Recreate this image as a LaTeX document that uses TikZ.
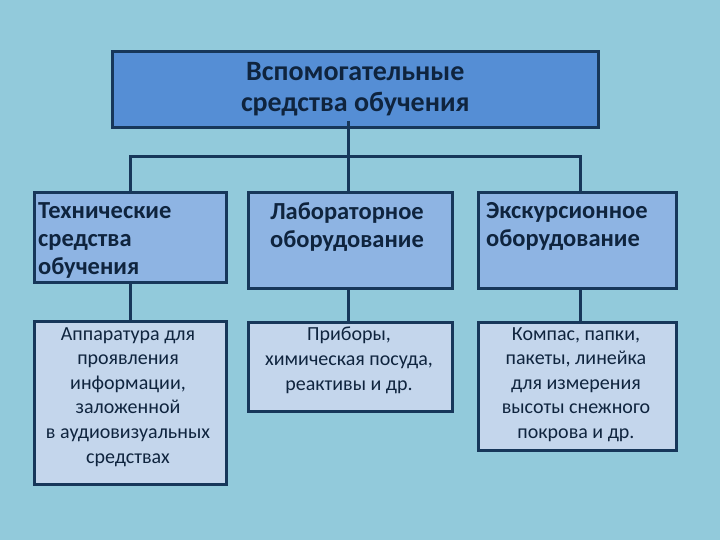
\documentclass[tikz,border=0pt]{standalone}
\usepackage{fontspec}
\setmainfont{Carlito}
\definecolor{bg}{RGB}{146,202,219}
\definecolor{frame}{RGB}{23,55,90}
\definecolor{ink}{RGB}{15,36,62}
\definecolor{topfill}{RGB}{85,142,213}
\definecolor{midfill}{RGB}{142,180,227}
\definecolor{lowfill}{RGB}{196,214,236}
\tikzset{
  box/.style={draw=frame, line width=2.6pt, inner sep=0pt, anchor=north west},
  conn/.style={draw=frame, line width=3pt},
  titletext/.style={text=ink, font=\fontsize{28}{31}\selectfont\bfseries, align=center, inner sep=0pt},
  midtext/.style={text=ink, font=\fontsize{24.5}{28}\selectfont\bfseries, inner sep=0pt, anchor=north},
  lowtext/.style={text=ink, font=\fontsize{20}{24.6}\selectfont, align=center, inner sep=0pt, anchor=north}
}
\begin{document}
\begin{tikzpicture}[x=1pt,y=-1pt]
\fill[bg] (0,0) rectangle (720,540);
\useasboundingbox (0,0) rectangle (720,540);

\node[box, fill=topfill, minimum width=486pt, minimum height=76pt] (top) at (111,50) {};
\node[titletext] (toptitle) at (top.center) {Вспомогательные\\средства обучения};

\node[box, fill=midfill, minimum width=192pt, minimum height=90pt] (b1) at (33,191) {};
\node[box, fill=midfill, minimum width=204pt, minimum height=96pt] (b2) at (247,191) {};
\node[box, fill=midfill, minimum width=198pt, minimum height=96pt] (b3) at (477,191) {};

\node[midtext, anchor=north west, align=left] (t1) at (38,202) {Технические\\средства\\обучения};
\node[midtext, align=center] (t2) at (347,202) {Лабораторное\\оборудование};
\node[midtext, anchor=north west, align=left] (t3) at (486,202) {Экскурсионное\\оборудование};

\node[box, fill=lowfill, minimum width=192pt, minimum height=163pt] (c1) at (33,320) {};
\node[box, fill=lowfill, minimum width=204pt, minimum height=89pt] (c2) at (247,321) {};
\node[box, fill=lowfill, minimum width=198pt, minimum height=128pt] (c3) at (477,321) {};

\node[lowtext] (u1) at (128,327) {Аппаратура для\\проявления\\информации,\\заложенной\\в аудиовизуальных\\средствах};
\node[lowtext] (u2) at (349,327) {Приборы,\\химическая посуда,\\реактивы и др.};
\node[lowtext] (u3) at (576,327) {Компас, папки,\\пакеты, линейка\\для измерения\\высоты снежного\\покрова и др.};

\coordinate (x1) at (130,0);
\coordinate (x2) at (348,0);
\coordinate (x3) at (580,0);
\coordinate (bar) at (0,157);
\draw[conn] ([yshift=8pt]top.south -| x2) -- (b2.north -| x2);
\draw[conn] (b1.north -| x1) -- (bar -| x1) -- (bar -| x3) -- (b3.north -| x3);
\draw[conn] (b1.south -| x1) -- (c1.north -| x1);
\draw[conn] (b2.south -| x2) -- (c2.north -| x2);
\draw[conn] (b3.south -| x3) -- (c3.north -| x3);
\end{tikzpicture}
\end{document}
